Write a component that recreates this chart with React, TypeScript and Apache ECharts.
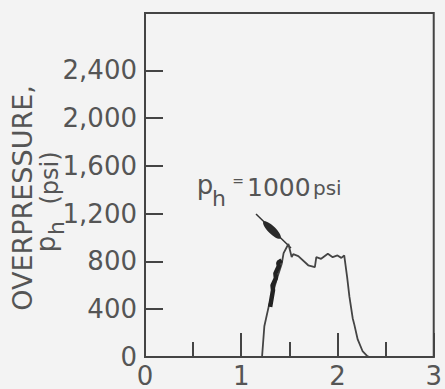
import React, { useEffect, useRef } from "react";
import * as echarts from "echarts";

const curveX = [1.216, 1.24, 1.285, 1.326, 1.367, 1.42, 1.44, 1.49, 1.524, 1.54, 1.593, 1.696, 1.765, 1.78, 1.83, 1.9, 1.95, 2.0, 2.04, 2.07, 2.1, 2.124, 2.158, 2.175, 2.21, 2.26, 2.31, 2.33];
const curveY = [0, 257, 422, 530, 646, 778, 870, 946, 836, 861, 845, 768, 753, 836, 822, 864, 836, 850, 830, 850, 671, 505, 325, 271, 147, 50, 8, 0];

const thickX = [1.3, 1.33, 1.325, 1.36, 1.355, 1.39, 1.385, 1.42];
const thickY = [420, 560, 600, 660, 700, 760, 790, 810];

const yTickValues = [400, 800, 1200, 1600, 2000, 2400];
const yLabelValues = [0, 400, 800, 1200, 1600, 2000, 2400];

const TEXT = "#555";
const LINE = "#444";
const FONT = "DejaVu Sans";

export default function App() {
  const ref = useRef<HTMLDivElement>(null);
  useEffect(() => {
    if (!ref.current) return;
    const chart = echarts.init(ref.current, undefined, { renderer: "svg" });
    chart.setOption({
      animation: false,
      backgroundColor: "#f3f3f3",
      grid: {
        left: 145,
        right: 8,
        top: 13,
        bottom: 28,
        show: true,
        borderColor: LINE,
        borderWidth: 2,
        backgroundColor: "transparent",
      },
      xAxis: {
        type: "value",
        min: 0,
        max: 3,
        interval: 1,
        axisLine: { lineStyle: { color: LINE, width: 2 } },
        axisTick: { inside: true, length: 24, lineStyle: { color: LINE, width: 2 } },
        minorTick: { show: true, splitNumber: 2, length: 15, lineStyle: { color: LINE, width: 2 } },
        splitLine: { show: false },
        axisLabel: { color: TEXT, fontFamily: FONT, fontSize: 26, margin: 6 },
      },
      yAxis: {
        type: "value",
        min: 0,
        max: 2880,
        interval: 400,
        axisLine: { show: true, lineStyle: { color: LINE, width: 2 } },
        axisTick: { show: true, inside: true, length: 18, customValues: yTickValues, lineStyle: { color: LINE, width: 2 } },
        splitLine: { show: false },
        axisLabel: { color: TEXT, fontFamily: FONT, fontSize: 26, margin: 8, customValues: yLabelValues },
      },
      series: [
        {
          type: "line",
          data: curveX.map((x, i) => [x, curveY[i]]),
          symbol: "none",
          lineStyle: { color: LINE, width: 1.8 },
        },
        {
          type: "line",
          data: thickX.map((x, i) => [x, thickY[i]]),
          symbol: "none",
          lineStyle: { color: "#222", width: 4.5 },
        },
      ],
      graphic: [
        {
          type: "text",
          x: 22,
          y: 198,
          rotation: Math.PI / 2,
          style: { text: "OVERPRESSURE,", fill: TEXT, font: `27px '${FONT}'`, align: "center", verticalAlign: "middle" },
        },
        {
          type: "text",
          x: 46,
          y: 244,
          rotation: Math.PI / 2,
          style: { text: "p", fill: TEXT, font: `26px '${FONT}'`, align: "center", verticalAlign: "middle" },
        },
        {
          type: "text",
          x: 56,
          y: 228,
          rotation: Math.PI / 2,
          style: { text: "h", fill: TEXT, font: `22px '${FONT}'`, align: "center", verticalAlign: "middle" },
        },
        {
          type: "text",
          x: 50,
          y: 178,
          rotation: Math.PI / 2,
          style: { text: "(psi)", fill: TEXT, font: `24px '${FONT}'`, align: "center", verticalAlign: "middle" },
        },
        {
          type: "text",
          x: 205,
          y: 185,
          style: { text: "p", fill: TEXT, font: `26px '${FONT}'`, align: "center", verticalAlign: "middle" },
        },
        {
          type: "text",
          x: 219,
          y: 198,
          style: { text: "h", fill: TEXT, font: `22px '${FONT}'`, align: "center", verticalAlign: "middle" },
        },
        {
          type: "text",
          x: 238,
          y: 181,
          style: { text: "=", fill: TEXT, font: `14px '${FONT}'`, align: "center", verticalAlign: "middle" },
        },
        {
          type: "text",
          x: 247,
          y: 187,
          style: { text: "1000", fill: TEXT, font: `25px '${FONT}'`, align: "left", verticalAlign: "middle" },
        },
        {
          type: "text",
          x: 313,
          y: 188,
          style: { text: "psi", fill: TEXT, font: `20px '${FONT}'`, align: "left", verticalAlign: "middle" },
        },
        {
          type: "line",
          shape: { x1: 256, y1: 214, x2: 291, y2: 248 },
          style: { stroke: "#333", lineWidth: 1.5 },
        },
        {
          type: "ellipse",
          x: 272,
          y: 230,
          rotation: -0.78,
          shape: { cx: 0, cy: 0, rx: 12, ry: 3.8 },
          style: { fill: "#2a2a2a" },
        },
      ],
    });
    return () => chart.dispose();
  }, []);
  return <div ref={ref} style={{ position: "fixed", left: 0, top: 0, width: 445, height: 389 }} />;
}
